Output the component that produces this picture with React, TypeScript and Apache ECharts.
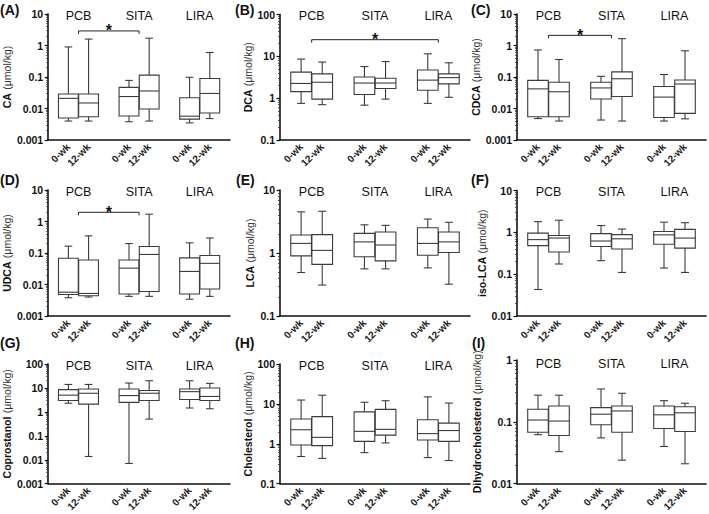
import React, { useEffect, useRef } from 'react';
import * as echarts from 'echarts';

// ---------- data ----------
const xLabels = ['', '0-wk', '12-wk', '', '0-wk', '12-wk', '', '0-wk', '12-wk', ''];
const boxPositions = [1, 2, 4, 5, 7, 8];
const groupNames = ['PCB', 'SITA', 'LIRA'];
const groupCenters = [1.5, 4.5, 7.5];
const panelLetters = ['(A)', '(B)', '(C)', '(D)', '(E)', '(F)', '(G)', '(H)', '(I)'];
const yNames = ['CA', 'DCA', 'CDCA', 'UDCA', 'LCA', 'iso-LCA', 'Coprostanol', 'Cholesterol', 'Dihydrocholesterol'];
const yUnit = '(μmol/kg)';
const yMins = [0.001, 0.1, 0.001, 0.001, 0.1, 0.01, 0.001, 0.1, 0.01];
const yMaxs = [10, 100, 10, 10, 10, 10, 100, 100, 1];

// [min, Q1, median, Q3, max] for PCB 0-wk, PCB 12-wk, SITA 0-wk, SITA 12-wk, LIRA 0-wk, LIRA 12-wk
const caBoxes = [
  [0.004, 0.005, 0.021, 0.029, 0.9],
  [0.004, 0.0055, 0.015, 0.029, 1.6],
  [0.0038, 0.0058, 0.024, 0.047, 0.078],
  [0.004, 0.0096, 0.036, 0.115, 1.7],
  [0.0035, 0.0046, 0.0057, 0.022, 0.098],
  [0.0048, 0.0072, 0.03, 0.09, 0.6],
];
const dcaBoxes = [
  [0.75, 1.43, 2.25, 4.2, 8.6],
  [0.7, 0.95, 2.4, 3.8, 7.3],
  [0.68, 1.22, 2.3, 3.2, 5.7],
  [0.95, 1.7, 2.3, 3.0, 7.5],
  [0.75, 1.55, 2.7, 4.7, 11.5],
  [1.05, 2.2, 3.1, 3.8, 7.0],
];
const cdcaBoxes = [
  [0.0048, 0.0055, 0.042, 0.078, 0.72],
  [0.004, 0.0055, 0.034, 0.068, 0.36],
  [0.0043, 0.02, 0.045, 0.068, 0.105],
  [0.004, 0.024, 0.088, 0.145, 1.65],
  [0.004, 0.0052, 0.023, 0.05, 0.12],
  [0.0047, 0.007, 0.06, 0.08, 0.68],
];
const udcaBoxes = [
  [0.0038, 0.0048, 0.0057, 0.068, 0.165],
  [0.004, 0.0044, 0.0052, 0.06, 0.35],
  [0.0042, 0.005, 0.033, 0.06, 0.2],
  [0.0042, 0.006, 0.09, 0.16, 1.7],
  [0.0034, 0.005, 0.026, 0.07, 0.21],
  [0.0042, 0.0072, 0.047, 0.083, 0.3],
];
const lcaBoxes = [
  [0.49, 0.9, 1.42, 1.93, 4.5],
  [0.31, 0.66, 1.1, 1.96, 4.6],
  [0.56, 0.87, 1.5, 2.05, 2.8],
  [0.56, 0.75, 1.34, 2.15, 2.75],
  [0.58, 0.92, 1.42, 2.52, 3.46],
  [0.32, 1.02, 1.5, 2.15, 3.07],
];
const isoLcaBoxes = [
  [0.043, 0.48, 0.67, 0.96, 1.8],
  [0.175, 0.34, 0.73, 0.84, 1.95],
  [0.21, 0.46, 0.62, 0.93, 1.45],
  [0.11, 0.4, 0.7, 0.88, 1.2],
  [0.14, 0.52, 0.87, 1.05, 1.75],
  [0.11, 0.42, 0.73, 1.18, 1.7],
];
const coprostanolBoxes = [
  [2.3, 3.0, 5.0, 8.5, 14],
  [0.0137, 2.1, 6.0, 9.0, 14],
  [0.007, 2.5, 4.8, 9.0, 16],
  [0.5, 3.0, 6.0, 7.8, 20],
  [1.45, 3.3, 7.0, 9.0, 20],
  [1.35, 3.0, 4.4, 10, 15.5],
];
const cholesterolBoxes = [
  [0.48, 0.93, 2.25, 4.2, 12.5],
  [0.43, 0.9, 1.45, 4.8, 16.5],
  [0.6, 1.15, 2.05, 6.3, 11],
  [1.05, 1.65, 2.3, 7.3, 12],
  [0.45, 1.25, 1.8, 4.0, 15],
  [0.38, 1.15, 2.15, 3.3, 10.5],
];
const dihydrocholesterolBoxes = [
  [0.062, 0.068, 0.107, 0.16, 0.27],
  [0.033, 0.06, 0.103, 0.18, 0.27],
  [0.055, 0.09, 0.133, 0.17, 0.34],
  [0.024, 0.068, 0.15, 0.18, 0.29],
  [0.04, 0.078, 0.13, 0.18, 0.22],
  [0.021, 0.07, 0.14, 0.175, 0.2],
];
const panelBoxes = [
  caBoxes, dcaBoxes, cdcaBoxes, udcaBoxes, lcaBoxes, isoLcaBoxes,
  coprostanolBoxes, cholesterolBoxes, dihydrocholesterolBoxes,
];

// significance brackets: panel index, from group centre, to group centre, y level
const sigPanels = [0, 1, 2, 3];
const sigFrom = [1.5, 1.5, 1.5, 1.5];
const sigTo = [4.5, 7.5, 4.5, 4.5];
const sigLevel = [2.9, 25, 2.1, 1.96];

// ---------- layout (style) ----------
const gridRects = [
  [40, 14, 190, 126], [280, 14.5, 190, 125.5], [517, 14, 190, 126],
  [40, 190, 190, 126], [280, 190, 190, 126], [517, 190.5, 190, 125.5],
  [40, 364, 190, 123], [280, 364, 190, 126], [517, 360, 190, 128],
];
const nameGaps = [27, 24, 27, 27, 24, 26, 28, 24, 34];
const groupLabelMargins = [-5, -5, -5, -5, -5, -5, -5, -5, -3];
const letterPos = [
  [0, 3], [235, 3], [471, 3],
  [0, 173], [236, 173], [471, 173],
  [0, 336], [235, 336], [472, 336],
];
const FONT = '"Liberation Sans", Arial, Helvetica, sans-serif';
const LINE = '#3c3c3c';

function fmtLog(v: number) {
  return String(Number(Number(v).toPrecision(3)));
}

function buildOption() {
  const grid: any[] = [];
  const xAxis: any[] = [];
  const yAxis: any[] = [];
  const series: any[] = [];

  gridRects.forEach((r, i) => {
    grid.push({ left: r[0], top: r[1], width: r[2], height: r[3], containLabel: false });
    // bottom axis
    xAxis.push({
      type: 'value', gridIndex: i, min: 0, max: xLabels.length - 1, interval: 1,
      axisLine: { show: true, lineStyle: { color: '#111', width: 1.6 } },
      axisTick: { show: false },
      splitLine: { show: false },
      axisLabel: {
        rotate: 45, margin: 5, fontSize: 10, fontWeight: 'bold', color: '#222', fontFamily: FONT,
        formatter: (v: number) => xLabels[Math.round(v)] || '',
        showMinLabel: true, showMaxLabel: true,
      },
    });
    // top axis for group names
    xAxis.push({
      type: 'value', gridIndex: i, position: 'top', min: 0, max: xLabels.length - 1, interval: 1.5,
      axisLine: { show: false }, axisTick: { show: false }, splitLine: { show: false },
      axisLabel: {
        inside: true, margin: groupLabelMargins[i], fontSize: 12.5, color: '#111', fontFamily: FONT,
        formatter: (v: number) => {
          const k = groupCenters.indexOf(v);
          return k >= 0 ? groupNames[k] : '';
        },
      },
    });
    yAxis.push({
      type: 'log', logBase: 10, gridIndex: i, min: yMins[i], max: yMaxs[i],
      axisLine: { show: true, lineStyle: { color: '#111', width: 1.6 } },
      axisTick: { show: true, length: 3.5, lineStyle: { color: '#111', width: 1.2 } },
      minorTick: { show: true, splitNumber: 9, length: 2, lineStyle: { color: '#333', width: 0.8 } },
      splitLine: { show: false },
      minorSplitLine: { show: false },
      axisLabel: { margin: 5, fontSize: 10.5, fontWeight: 'bold', color: '#111', fontFamily: FONT, formatter: fmtLog },
      name: `{b|${yNames[i]}} {n|${yUnit}}`,
      nameLocation: 'middle',
      nameGap: nameGaps[i],
      nameRotate: 90,
      nameTextStyle: {
        fontFamily: FONT,
        rich: {
          b: { fontWeight: 'bold', fontSize: 10.5, color: '#111', fontFamily: FONT },
          n: { fontSize: 10.5, color: '#333', fontFamily: FONT },
        },
      },
    });

    const boxes = panelBoxes[i];
    series.push({
      type: 'custom',
      xAxisIndex: i * 2,
      yAxisIndex: i,
      encode: { x: 0, y: [1, 2, 3, 4, 5] },
      data: boxes.map((b, k) => [boxPositions[k], ...b]),
      renderItem: (params: any, api: any) => {
        const x = api.value(0);
        const vals = [1, 2, 3, 4, 5].map((d) => api.value(d));
        const pts = vals.map((v) => api.coord([x, v]));
        const cx = pts[0][0];
        const unit = api.coord([x + 1, vals[2]])[0] - cx;
        const hw = unit * 0.49;
        const cap = unit * 0.19;
        const [yMin, yQ1, yMed, yQ3, yMax] = pts.map((p: number[]) => p[1]);
        const st = { stroke: LINE, lineWidth: 1.1, fill: null };
        return {
          type: 'group',
          children: [
            { type: 'rect', shape: { x: cx - hw, y: yQ3, width: 2 * hw, height: yQ1 - yQ3 }, style: { stroke: LINE, lineWidth: 1.1, fill: 'rgba(255,255,255,0)' } },
            { type: 'line', shape: { x1: cx - hw, y1: yMed, x2: cx + hw, y2: yMed }, style: st },
            { type: 'line', shape: { x1: cx, y1: yQ3, x2: cx, y2: yMax }, style: st },
            { type: 'line', shape: { x1: cx, y1: yQ1, x2: cx, y2: yMin }, style: st },
            { type: 'line', shape: { x1: cx - cap, y1: yMax, x2: cx + cap, y2: yMax }, style: st },
            { type: 'line', shape: { x1: cx - cap, y1: yMin, x2: cx + cap, y2: yMin }, style: st },
          ],
        };
      },
    });
  });

  sigPanels.forEach((p, k) => {
    series.push({
      type: 'custom',
      xAxisIndex: p * 2,
      yAxisIndex: p,
      encode: { x: [0, 1], y: 2 },
      data: [[sigFrom[k], sigTo[k], sigLevel[k]]],
      renderItem: (params: any, api: any) => {
        const a = api.coord([api.value(0), api.value(2)]);
        const b = api.coord([api.value(1), api.value(2)]);
        return {
          type: 'group',
          children: [
            {
              type: 'polyline',
              shape: { points: [[a[0], a[1] + 3], [a[0], a[1]], [b[0], b[1]], [b[0], b[1] + 3]] },
              style: { stroke: '#222', lineWidth: 1, fill: null },
            },
            {
              type: 'text',
              x: (a[0] + b[0]) / 2,
              y: a[1],
              style: { text: '*', font: `bold 16px ${FONT}`, fill: '#111', align: 'center', verticalAlign: 'middle' },
            },
          ],
        };
      },
    });
  });

  const graphic = panelLetters.map((t, i) => ({
    type: 'text',
    left: letterPos[i][0],
    top: letterPos[i][1],
    style: { text: t, font: `bold 14px ${FONT}`, fill: '#111' },
  }));

  return {
    animation: false,
    backgroundColor: '#ffffff',
    textStyle: { fontFamily: FONT },
    grid,
    xAxis,
    yAxis,
    series,
    graphic,
  };
}

export default function App() {
  const ref = useRef<HTMLDivElement>(null);
  useEffect(() => {
    if (!ref.current) return;
    const chart = echarts.init(ref.current, undefined, { renderer: 'svg' });
    chart.setOption(buildOption() as any);
    return () => chart.dispose();
  }, []);
  return (
    <div
      ref={ref}
      style={{ position: 'fixed', left: 0, top: 0, width: 709, height: 514, background: '#fff' }}
    />
  );
}
